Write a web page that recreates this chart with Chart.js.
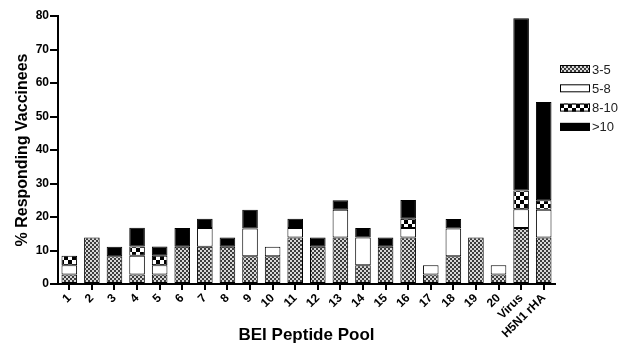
<!DOCTYPE html>
<html lang="en">
<head>
    <meta charset="UTF-8">
    <title>BEI Peptide Pool</title>
    <script src="https://cdn.jsdelivr.net/npm/chart.js"></script>
    <style>
        html, body { margin: 0; padding: 0; background: #fff; }
        #wrap { width: 625px; height: 354px; }
    </style>
</head>
<body>
    <div id="wrap"><canvas id="chart" width="625" height="354"></canvas></div>
    <script>
        const pools = ['1','2','3','4','5','6','7','8','9','10','11','12','13','14','15','16','17','18','19','20','Virus','H5N1 rHA'];
        const sfc3to5  = [2.8,13.9,8.3,2.8,2.8,11.1,11.1,11.1,8.3,8.3,13.9,11.1,13.9,5.6,11.1,13.9,2.8,8.3,13.9,2.8,16.7,13.9];
        const sfc5to8  = [2.8,0,0,5.6,2.8,0,5.6,0,8.3,2.8,2.8,0,8.3,8.3,0,2.8,2.8,8.3,0,2.8,5.6,8.3];
        const sfc8to10 = [2.8,0,0,2.8,2.8,0,0,0,0,0,0,0,0,0,0,2.8,0,0,0,0,5.6,2.8];
        const sfcOver10 = [0,0,2.8,5.6,2.8,5.6,2.8,2.8,5.6,0,2.8,2.8,2.8,2.8,2.8,5.6,0,2.8,0,0,51.4,29.3];
        const yTicks = [0,10,20,30,40,50,60,70,80];

        // small checker patterns for the fills
        function checker(cell, dark, light) {
            const c = document.createElement('canvas');
            c.width = cell * 2; c.height = cell * 2;
            const g = c.getContext('2d');
            g.fillStyle = light; g.fillRect(0, 0, cell * 2, cell * 2);
            g.fillStyle = dark;
            g.fillRect(0, 0, cell, cell);
            g.fillRect(cell, cell, cell, cell);
            return document.getElementById('chart').getContext('2d').createPattern(c, 'repeat');
        }
        const fineGrey = checker(2, '#3c3c3c', '#d8d8d8');
        const bigCheck = checker(4, '#000', '#fff');

        const font = "'Liberation Sans', Arial, sans-serif";

        const legendPlugin = {
            id: 'sideLegend',
            afterDraw(chart) {
                const ctx = chart.ctx;
                ctx.save();
                chart.data.datasets.forEach((ds, i) => {
                    const y = 69 + i * 19.3;
                    ctx.fillStyle = ds.backgroundColor;
                    ctx.fillRect(560, y - 4, 30, 8);
                    ctx.strokeStyle = '#000';
                    ctx.lineWidth = 1;
                    ctx.strokeRect(560.5, y - 3.5, 29, 7);
                    ctx.fillStyle = '#222';
                    ctx.font = '13px ' + font;
                    ctx.textBaseline = 'middle';
                    ctx.fillText(ds.label, 592, y + 1);
                });
                ctx.restore();
            }
        };

        const common = { borderColor: '#000', borderWidth: 1, borderSkipped: false, barPercentage: 0.69, categoryPercentage: 1 };

        new Chart(document.getElementById('chart'), {
            type: 'bar',
            data: {
                labels: pools,
                datasets: [
                    Object.assign({ label: '3-5', data: sfc3to5, backgroundColor: fineGrey }, common),
                    Object.assign({ label: '5-8', data: sfc5to8, backgroundColor: '#fff' }, common),
                    Object.assign({ label: '8-10', data: sfc8to10, backgroundColor: bigCheck }, common),
                    Object.assign({ label: '>10', data: sfcOver10, backgroundColor: '#000' }, common)
                ]
            },
            options: {
                responsive: false,
                animation: false,
                layout: { padding: { top: 16, right: 70, left: 0, bottom: 0 } },
                plugins: { legend: { display: false }, tooltip: { enabled: false } },
                scales: {
                    x: {
                        stacked: true,
                        border: { color: '#000', width: 2 },
                        grid: { display: true, drawOnChartArea: false, offset: false, color: '#000', lineWidth: 2, tickLength: 6 },
                        ticks: { color: '#000', font: { family: font, size: 12, weight: 'bold' }, minRotation: 45, maxRotation: 45, autoSkip: false, padding: 1 },
                        title: { display: true, text: 'BEI Peptide Pool', color: '#000', font: { family: font, size: 17, weight: 'bold' }, padding: { top: 0, bottom: 8 } },
                        afterFit(s) { s.height = 70; }
                    },
                    y: {
                        stacked: true,
                        min: 0, max: 80,
                        afterBuildTicks(s) { s.ticks = yTicks.map(v => ({ value: v })); },
                        border: { color: '#000', width: 2 },
                        grid: { display: true, drawOnChartArea: false, color: '#000', lineWidth: 2, tickLength: 8 },
                        ticks: { color: '#000', font: { family: font, size: 12, weight: 'bold' }, padding: 1 },
                        title: { display: true, text: '% Responding Vaccinees', color: '#000', font: { family: font, size: 16, weight: 'bold' }, padding: { top: 13, bottom: 4 } },
                        afterFit(s) { s.width = 58; }
                    }
                }
            },
            plugins: [legendPlugin]
        });
    </script>
</body>
</html>
